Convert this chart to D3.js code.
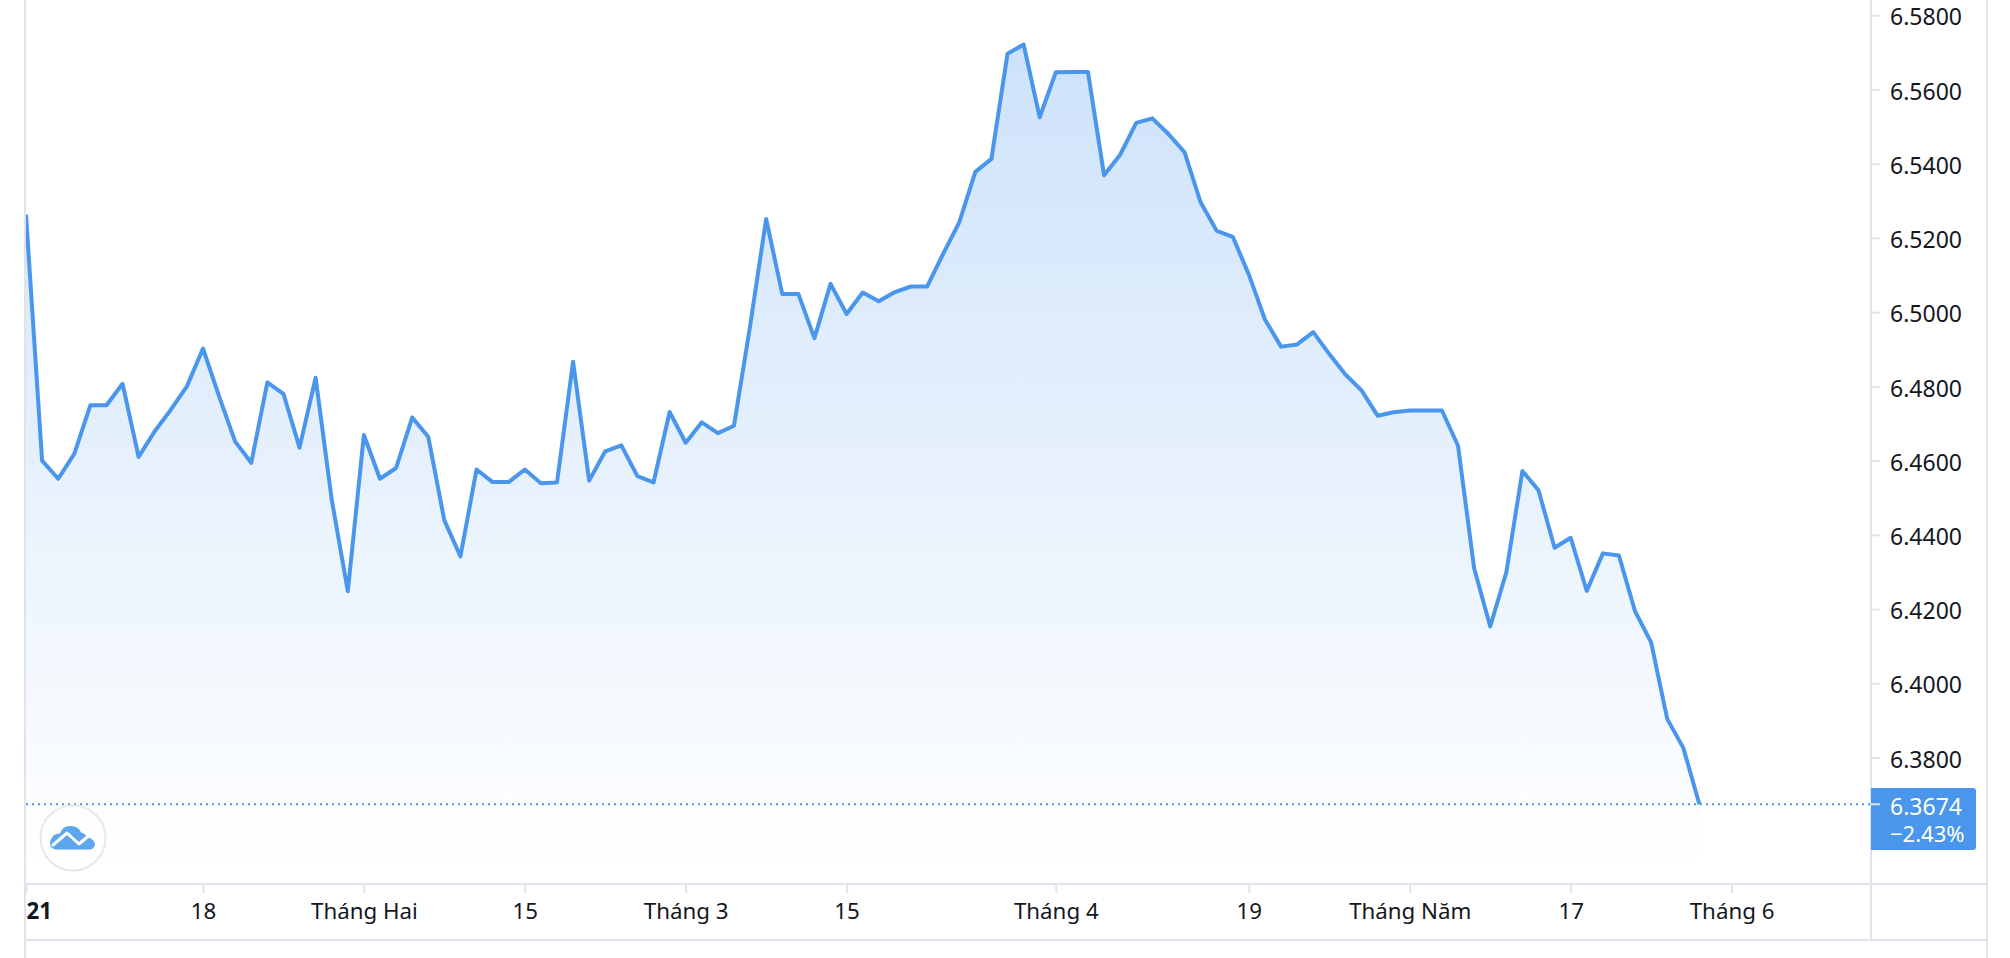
<!DOCTYPE html>
<html><head><meta charset="utf-8">
<script src="https://cdn.jsdelivr.net/npm/d3@7/dist/d3.min.js"></script>
<style>
html,body{margin:0;padding:0;background:#fff;overflow:hidden}
svg{display:block}
text{font-family:"Noto Sans",sans-serif;font-size:23px;fill:#131722}
</style></head><body>
<svg id="c" width="2010" height="958"></svg>
<script>
const closes = [6.5263,6.4600,6.4551,6.4618,6.4749,6.4749,6.4807,6.4610,6.4679,6.4737,
6.4800,6.4902,6.4773,6.4651,6.4594,6.4811,6.4780,6.4635,6.4823,6.4495,
6.4248,6.4669,6.4551,6.4580,6.4716,6.4664,6.4439,6.4342,6.4576,6.4542,
6.4542,6.4576,6.4539,6.4541,6.4866,6.4546,6.4625,6.4641,6.4558,6.4541,
6.4731,6.4648,6.4703,6.4674,6.4694,6.4962,6.5251,6.5049,6.5049,6.4930,
6.5076,6.4995,6.5053,6.5029,6.5054,6.5069,6.5069,6.5157,6.5242,6.5378,
6.5413,6.5696,6.5721,6.5525,6.5646,6.5647,6.5647,6.5369,6.5424,6.5510,
6.5522,6.5480,6.5431,6.5296,6.5219,6.5203,6.5101,6.4980,6.4907,6.4913,
6.4946,6.4887,6.4832,6.4789,6.4721,6.4730,6.4735,6.4735,6.4735,6.4640,
6.4310,6.4153,6.4299,6.4572,6.4520,6.4365,6.4392,6.4249,6.4350,6.4344,
6.4194,6.4110,6.3904,6.3826,6.3674];
const xTickIndex = [0,11,21,31,41,51,64,76,86,96,106];
const xTickLabels = ["2021","18","Tháng Hai","15","Tháng 3","15","Tháng 4","19","Tháng Năm","17","Tháng 6"];
const yTicks = [6.38,6.40,6.42,6.44,6.46,6.48,6.50,6.52,6.54,6.56,6.58];
const lastValue = "6.3674";
const lastChange = "−2.43%";

const W=2010,H=958,L=26,PR=1871,PB=884,R=1987,BB=940;
const gridCol="#e0e3eb", lineCol="#4a96ec";
const x=d3.scaleLinear().domain([0,closes.length-1]).range([26,1699.4]);
const y=d3.scaleLinear().domain([6.38,6.58]).range([757.5,15.2]);
const svg=d3.select("#c");
const defs=svg.append("defs");
const g=defs.append("linearGradient").attr("id","fillG").attr("gradientUnits","userSpaceOnUse")
 .attr("x1",0).attr("x2",0).attr("y1",0).attr("y2",870);
g.append("stop").attr("offset",0).attr("stop-color",lineCol).attr("stop-opacity",0.29);
g.append("stop").attr("offset",1).attr("stop-color",lineCol).attr("stop-opacity",0);
defs.append("clipPath").attr("id","xclip").append("rect").attr("x",L).attr("y",PB).attr("width",PR-L).attr("height",BB-PB);

// area and line
svg.append("path").datum(closes).attr("fill","url(#fillG)")
 .attr("d",d3.area().x((d,i)=>x(i)).y0(PB).y1(d=>y(d)));
// dotted last-value line
svg.append("line").attr("x1",L).attr("x2",PR).attr("y1",y(+lastValue)).attr("y2",y(+lastValue))
 .attr("stroke",lineCol).attr("stroke-width",2).attr("stroke-dasharray","2 4");
svg.append("path").datum(closes).attr("fill","none").attr("stroke",lineCol).attr("stroke-width",4)
 .attr("stroke-linejoin","round")
 .attr("d",d3.line().x((d,i)=>x(i)).y(d=>y(d)));

// frame
const frame=[[L-1,0,L-1,H],[R,0,R,H],[PR,0,PR,BB],[L,PB,R,PB],[L,BB,R,BB]];
svg.append("g").selectAll("line").data(frame).join("line")
 .attr("x1",d=>d[0]).attr("y1",d=>d[1]).attr("x2",d=>d[2]).attr("y2",d=>d[3])
 .attr("stroke",gridCol).attr("stroke-width",2);

// x axis
const xAxis=d3.axisBottom(x).tickValues(xTickIndex).tickSize(9).tickPadding(10)
 .tickFormat((d,i)=>xTickLabels[i]);
const gx=svg.append("g").attr("clip-path","url(#xclip)").append("g").attr("transform",`translate(0,${PB})`).call(xAxis);
gx.select(".domain").remove();
gx.selectAll(".tick line").attr("stroke",gridCol).attr("stroke-width",2);
gx.selectAll(".tick text").attr("font-size",null).attr("y",19).style("fill","#131722").style("font-size","22.3px");
gx.selectAll(".tick text").filter((d,i)=>i===0).style("font-weight","700");

// price label
svg.append("path").attr("fill",lineCol)
 .attr("d",`M${PR},788H1973a3,3 0 0 1 3,3V847a3,3 0 0 1 -3,3H${PR}Z`);

// y axis
const yAxis=d3.axisRight(y).tickValues(yTicks).tickSize(9).tickPadding(10).tickFormat(d3.format(".4f"));
const gy=svg.append("g").attr("transform",`translate(${PR},0)`).call(yAxis);
gy.select(".domain").remove();
gy.selectAll(".tick line").attr("stroke",gridCol).attr("stroke-width",2);
gy.selectAll(".tick text").attr("dy","0.42em").style("fill","#131722");
svg.append("line").attr("x1",PR).attr("x2",PR+9).attr("y1",y(+lastValue)).attr("y2",y(+lastValue))
 .attr("stroke",gridCol).attr("stroke-width",2);
svg.append("text").attr("x",PR+19).attr("y",806).attr("dy","0.38em").style("fill","#fff").text(lastValue);
svg.append("text").attr("x",PR+19).attr("y",834).attr("dy","0.38em").style("fill","#fff").style("font-size","22px").text(lastChange);

// logo
const logo=svg.append("g");
logo.append("circle").attr("cx",73).attr("cy",838).attr("r",32.5).attr("fill","#fff").attr("fill-opacity",.6)
 .attr("stroke","#e8e8e8").attr("stroke-width",2);
logo.append("path").attr("fill","#5ba6ec")
 .attr("d","M56,849.5a6.5,6.5 0 0 1 -5,-10a9,9 0 0 1 9,-6a11,10 0 0 1 21,-1a8,8 0 0 1 6,5a8,8 0 0 1 8,7a6,6 0 0 1 -5,5Z");
logo.append("path").attr("fill","none").attr("stroke","#fff").attr("stroke-width",3).attr("stroke-linecap","round").attr("stroke-linejoin","round")
 .attr("d","M53,845L67,833L79,844L92,833");
</script></body></html>
